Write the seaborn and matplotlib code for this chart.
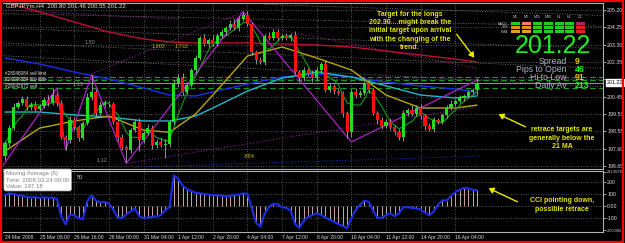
import numpy as np
import pandas as pd
import matplotlib
matplotlib.use("Agg")
import matplotlib.pyplot as plt
import seaborn as sns
from matplotlib.patches import Rectangle, FancyArrowPatch

sns.set_style("dark")
plt.rcParams['font.family'] = ['Liberation Sans', 'DejaVu Sans']

# ---------------- data ----------------
first_open = 197.20
closes = [197.90, 198.73, 199.90, 200.10, 200.30, 199.90, 200.00, 199.80, 199.95, 200.27,
          200.10, 200.55, 200.10, 198.24, 198.08, 199.17, 198.80, 198.19, 199.00, 200.43,
          200.70, 199.56, 199.99, 200.10, 200.05, 199.06, 198.24, 197.69, 197.53, 198.62,
          199.06, 198.08, 198.46, 198.73, 197.80, 197.97, 197.80, 197.85, 199.06, 201.20,
          201.47, 200.70, 201.09, 201.91, 202.57, 203.67, 203.34, 203.56, 203.34, 203.78,
          204.00, 204.21, 204.43, 204.21, 204.70, 204.93, 204.43, 202.90, 202.46, 202.35,
          203.78, 203.67, 204.00, 203.67, 203.78, 203.67, 203.84, 201.80, 201.47, 201.91,
          201.69, 201.47, 201.91, 202.24, 200.82, 201.04, 200.76, 200.65, 199.56, 198.51,
          200.70, 200.55, 200.65, 201.20, 200.82, 199.56, 199.17, 198.84, 199.06, 198.79,
          198.51, 198.24, 199.56, 199.72, 199.50, 199.83, 199.39, 198.84, 198.68, 199.17,
          199.06, 199.45, 199.83, 200.05, 200.21, 200.38, 200.49, 200.70, 200.80, 201.22]
upper_wick = [0.10, 0.15, 0.20, 0.12, 0.18, 0.20, 0.15, 0.22, 0.10, 0.18,
              0.25, 0.38, 0.12, 0.15, 0.10, 0.20, 0.15, 0.10, 0.12, 0.20,
              0.94, 0.15, 0.22, 0.15, 0.12, 0.10, 0.12, 0.15, 0.10, 0.10,
              0.15, 0.20, 0.12, 0.20, 0.15, 0.18, 0.22, 0.30, 0.12, 0.15,
              0.20, 0.30, 0.15, 0.12, 0.15, 0.10, 0.20, 0.12, 0.25, 0.15,
              0.18, 0.12, 0.20, 0.25, 0.15, 0.17, 0.20, 0.10, 0.12, 0.15,
              0.12, 0.20, 0.15, 0.18, 0.12, 0.15, 0.10, 0.20, 0.10, 0.15,
              0.12, 0.20, 0.15, 0.12, 0.20, 0.18, 0.12, 0.15, 0.10, 0.12,
              0.15, 0.22, 0.18, 0.12, 0.15, 0.10, 0.12, 0.18, 0.15, 0.20,
              0.12, 0.15, 0.18, 0.12, 0.25, 0.15, 0.20, 0.12, 0.18, 0.15,
              0.12, 0.10, 0.15, 0.20, 0.12, 0.15, 0.10, 0.12, 0.10, 0.24]
lower_wick = [0.20, 0.15, 0.10, 0.15, 0.12, 0.18, 0.20, 0.12, 0.15, 0.10,
              0.18, 0.12, 0.15, 0.12, 0.55, 0.15, 0.20, 0.15, 0.12, 0.10,
              0.15, 0.20, 0.12, 0.10, 0.15, 0.12, 0.20, 0.15, 0.66, 0.15,
              0.12, 0.60, 0.15, 0.12, 0.20, 0.15, 0.12, 0.70, 0.15, 0.12,
              0.20, 0.15, 0.12, 0.10, 0.15, 0.12, 0.10, 0.15, 0.12, 0.10,
              0.12, 0.15, 0.10, 0.12, 0.15, 0.10, 0.12, 0.15, 0.20, 0.12,
              0.15, 0.10, 0.12, 0.15, 0.10, 0.12, 0.15, 0.12, 0.22, 0.15,
              0.12, 0.20, 0.12, 0.15, 0.12, 0.10, 0.15, 0.12, 0.20, 0.30,
              0.25, 0.15, 0.12, 0.10, 0.15, 0.12, 0.20, 0.15, 0.12, 0.18,
              0.15, 0.16, 0.20, 0.15, 0.12, 0.10, 0.15, 0.20, 0.12, 0.15,
              0.12, 0.10, 0.15, 0.12, 0.10, 0.12, 0.15, 0.10, 0.12, 0.25]

cci = [90, 105, 100, 90, 85, 75, 70, 75, 68, 72,
       70, 68, 60, -85, -150, -70, -75, -100, -110, 40,
       90, 45, 30, 35, 20, -30, -95, -100, -70, -45,
       -20, -85, -100, -95, -90, -85, -75, -35, -10, 255,
       225, 170, 140, 125, 110, 105, 100, 95, 90, 90,
       85, 80, 85, 90, 95, 105, 100, -20, -140, -170,
       -60, -5, 20, 15, -10, -15, -40, -150, -180, -120,
       -90, -75, -60, -75, -95, -115, -130, -150, -165, -185,
       -100, -30, 10, 45, 35, -40, -95, -100, -75, -60,
       -85, -60, -10, -10, -15, -20, -30, -55, -78, -45,
       10, 48, 45, 85, 115, 135, 150, 145, 135, 132]

ma_bars = [0, 8, 16, 24, 32, 38, 44, 48, 56, 64, 72, 80, 88, 96, 104, 109]
ma21 = [197.47, 198.73, 199.12, 199.39, 198.62, 198.50, 199.50, 200.54, 202.68, 203.17,
        202.57, 201.91, 200.54, 199.83, 199.83, 199.99]
ma_cyan = [199.61, 199.61, 199.45, 199.34, 199.12, 199.12, 199.39, 199.83, 200.76, 201.47,
           201.80, 201.53, 201.04, 200.54, 200.38, 200.49]
ma_blue = [202.57, 202.24, 201.80, 201.42, 200.93, 200.54, 200.49, 200.71, 201.14, 201.53,
           201.69, 201.53, 201.25, 201.04, 200.87, 200.70]
ma_red = [205.64, 205.09, 204.54, 203.99, 203.61, 203.45, 203.39, 203.39, 203.39, 203.34,
          203.28, 203.17, 202.95, 202.73, 202.51, 202.35]

zz_bars = [-1, 12, 14, 20, 28, 55, 80, 109]
zz_price = [196.50, 200.93, 197.53, 201.64, 196.80, 205.10, 197.97, 201.36]

date_labels = ["24 Mar 2008", "25 Mar 08:00", "26 Mar 16:00", "28 Mar 00:00", "31 Mar 04:00",
               "1 Apr 12:00", "2 Apr 20:00", "4 Apr 04:00", "7 Apr 12:00", "8 Apr 20:00",
               "10 Apr 04:00", "11 Apr 12:00", "14 Apr 20:00", "16 Apr 04:00"]
price_ticks = [205.20, 204.25, 203.30, 202.35, 201.40, 200.45, 199.50, 198.55, 197.60, 196.65]
cci_ticks = [281.8578, 200, 100, 0, -100, -200.093]
cci_tick_labels = ["281.8578", "200", "100", "0.00", "-100", "-200.093"]

order_levels = [201.53, 201.34, 200.90]
order_names = ["#28048084 sell limit", "#28048084 buy limit", "#28042972 sell"]

# ---------------- derived ----------------
n = len(closes)
idx = np.arange(n)
opens = [first_open] + closes[:-1]
df = pd.DataFrame({"bar": idx, "open": opens, "close": closes,
                   "uw": upper_wick, "lw": lower_wick, "cci": cci})
df["high"] = df[["open", "close"]].max(axis=1) + df["uw"]
df["low"] = df[["open", "close"]].min(axis=1) - df["lw"]
df["ma5"] = df["close"].rolling(5, min_periods=1).mean()
ma_df = pd.DataFrame({"bar": ma_bars, "ma21": ma21, "cyan": ma_cyan, "blue": ma_blue, "red": ma_red})

W, H = 625, 243
fig = plt.figure(figsize=(W / 100, H / 100), dpi=100)
fig.patch.set_facecolor("black")

def fx(px):
    return px / W

def fy(py):
    return 1 - py / H

YLO, YHI = 196.49, 205.58
ax = fig.add_axes([fx(3), fy(169), fx(600), 166 / H])
ax2 = fig.add_axes([fx(3), fy(232), fx(600), 61 / H])
xlim = (-0.46, 138.1)
for a in (ax, ax2):
    a.set_facecolor("black")
    a.set_xlim(*xlim)
    for s in a.spines.values():
        s.set_color("#b0b0b0")
        s.set_linewidth(0.8)
    a.spines["left"].set_visible(False)
    a.grid(False)

ax.set_ylim(YLO, YHI)
ax2.set_ylim(-215, 290)

tick_bars = list(range(0, 105, 8))
grid_c = "#6e6e6e"
for a in (ax, ax2):
    for tb in tick_bars[1:]:
        a.axvline(tb, color=grid_c, ls=(0, (1, 2)), lw=0.6, zorder=0)
for p in price_ticks:
    ax.axhline(p, color=grid_c, ls=(0, (1, 2)), lw=0.6, zorder=0)
for c in [200, 100, 0, -100]:
    ax2.axhline(c, color=grid_c, ls=(0, (1, 2)), lw=0.6, zorder=0)

# fib fan / trend lines (chart objects)
fan_lines = [((-1, 205.0), (138, 204.3)), ((-1, 204.2), (138, 203.1)), ((-1, 203.4), (138, 202.0)),
             ((-1, 202.7), (138, 201.0)), ((60, 205.5), (138, 204.9))]
for (b0, p0), (b1, p1) in fan_lines:
    ax.plot([b0, b1], [p0, p1], color="#8a8a8a", ls=(0, (1, 2)), lw=0.6, zorder=1)
purple_dots = [((20, 201.7), (55, 205.1)), ((28, 196.8), (109, 199.9)), ((55, 204.5), (109, 202.0)),
               ((0, 205.2), (40, 204.7))]
for (b0, p0), (b1, p1) in purple_dots:
    ax.plot([b0, b1], [p0, p1], color="#a020b0", ls=(0, (1, 2)), lw=0.7, zorder=1)
ax.plot([30, 110], [196.6, 197.2], color="#2030c0", ls=(0, (1, 2)), lw=0.7, zorder=1)

# order lines
for lv in order_levels:
    ax.axhline(lv, color="#1a9a1a", ls=(0, (5, 3)), lw=0.8, zorder=1)
ax.axhline(closes[-1], color="#909090", lw=0.8, zorder=1)

# moving averages
sns.lineplot(data=ma_df, x="bar", y="red", ax=ax, color="#c01030", lw=1.0, zorder=2)
sns.lineplot(data=ma_df, x="bar", y="blue", ax=ax, color="#1a30e8", lw=1.0, zorder=2)
sns.lineplot(data=ma_df, x="bar", y="cyan", ax=ax, color="#20b8c8", lw=1.0, zorder=2)
sns.lineplot(data=ma_df, x="bar", y="ma21", ax=ax, color="#b8a800", lw=1.0, zorder=2)
sns.lineplot(data=df, x="bar", y="ma5", ax=ax, color="#10a010", lw=0.8, zorder=2)
ax.plot(zz_bars, zz_price, color="#b020c8", lw=0.9, zorder=2)

# candles
up = df["close"] >= df["open"]
ax.vlines(df["bar"], df["low"], df["high"], color="#a8a8a8", lw=0.6, zorder=3)
body_bottom = df[["open", "close"]].min(axis=1)
body_h = (df["close"] - df["open"]).abs().clip(lower=0.03)
ax.bar(df["bar"], body_h, bottom=body_bottom, width=0.72,
       color=np.where(up, "#22dd22", "#ff1010"), zorder=4, linewidth=0)

# CCI
ax2.vlines(df["bar"], 0, df["cci"], color="#c8a8a0", lw=0.7, zorder=2)
sns.lineplot(data=df, x="bar", y="cci", ax=ax2, color="#1a2ee8", lw=1.5, zorder=3)

# axes ticks (201.40 label is hidden behind the current-price box in the reference)
ax.yaxis.tick_right()
ax.set_yticks(price_ticks)
ax.set_yticklabels(["" if abs(p - 201.40) < 1e-6 else f"{p:.2f}" for p in price_ticks])
ax2.yaxis.tick_right()
ax2.set_yticks(cci_ticks)
ax2.set_yticklabels(cci_tick_labels)
for a in (ax, ax2):
    a.tick_params(axis="y", colors="#e0e0e0", labelsize=3.8, length=2, pad=1, width=0.5)
    a.set_xlabel("")
    a.set_ylabel("")
for lbl in ax2.get_yticklabels():
    if lbl.get_text() in ("281.8578", "-200.093"):
        lbl.set_fontsize(2.7)
ax.set_xticks([])
ax2.set_xticks(tick_bars)
ax2.set_xticklabels(date_labels, ha="left")
ax2.tick_params(axis="x", colors="#e0e0e0", labelsize=3.6, length=0, pad=2.5)

# current price box
ax.text(1.006, (closes[-1] - YLO) / (YHI - YLO), f"{closes[-1]:.2f}", transform=ax.transAxes,
        fontsize=3.8, color="black", va="center", ha="left",
        bbox=dict(boxstyle="square,pad=0.2", fc="white", ec="white"))

# order labels
for py_, nm in zip([73.5, 79.0, 86.5], order_names):
    fig.text(fx(5), fy(py_), nm, fontsize=3.3, color="#e0e0e0", va="center", ha="left")

# title
fig.text(fx(6), fy(6), "GBPJPYm,H4  200.80 201.46 200.55 201.22", fontsize=4.3, color="#e8e8e8",
         va="center", ha="left")

# fib labels
for (px_, py_, t, c) in [(152, 47, "1.902", "#c8b400"), (175, 46, "1.732", "#c8b400"),
                         (85, 43, "1.50", "#909090"), (73, 84, "1.13", "#909090"),
                         (97, 160, "1.12", "#909090"), (243, 157, ".884", "#c8b400")]:
    fig.text(fx(px_), fy(py_), t, fontsize=4.0, color=c, va="center", ha="left")

# info panel
cols = ["M1", "M5", "M15", "M30", "H1", "H4", "D1"]
rows = ["MACD", "STR", "EMA"]
cell_colors = [["#22cc22", "#ff8070", "#22cc22", "#22cc22", "#22cc22", "#22cc22", "#b02060"],
               ["#e09020", "#e09020", "#22cc22", "#22cc22", "#22cc22", "#22cc22", "#e02020"],
               ["#e0a020", "#e0a020", "#22cc22", "#22cc22", "#22cc22", "#22cc22", "#e02020"]]
col_x = [515, 526, 537, 548, 559, 569, 580]
row_y = [23.5, 27.5, 32]
for j, cname in enumerate(cols):
    fig.text(fx(col_x[j]), fy(17), cname, fontsize=2.6, color="#c0c0c0", ha="center", va="center")
for i, rname in enumerate(rows):
    fig.text(fx(508), fy(row_y[i]), rname, fontsize=2.4, color="#c0c0c0", ha="right", va="center")
    for j in range(len(cols)):
        fig.add_artist(Rectangle((fx(col_x[j] - 4.5), fy(row_y[i] + 1.5)), fx(9), 3 / H,
                                 transform=fig.transFigure, color=cell_colors[i][j], lw=0))

fig.text(fx(553), fy(46), "201.22", fontsize=18, color="#22ee22", ha="center", va="center")
info_labels = ["Spread", "Pips to Open", "Hi to Low", "Daily Av"]
info_values = ["9", "46", "91", "213"]
info_colors = ["#e0c800", "#22ee22", "#e0c800", "#22ee22"]
for k, (lab, val, col) in enumerate(zip(info_labels, info_values, info_colors)):
    yy = 61.5 + k * 8.0
    fig.text(fx(567), fy(yy), lab, fontsize=6.3, color="#a8b0c8", ha="right", va="center")
    fig.text(fx(575), fy(yy), val, fontsize=6.3, color=col, ha="left", va="center", weight="bold")

# annotations
yel = "#e8e800"
fig.text(fx(410), fy(31), "Target for the longs\n202.30....might break the\ninitial target upon arrival\nwith the changing of the\ntrend.",
         fontsize=5.0, color=yel, ha="center", va="center", weight="bold", linespacing=1.25)
fig.text(fx(562), fy(138), "retrace targets are\ngenerally below the\n21 MA",
         fontsize=5.0, color=yel, ha="center", va="center", weight="bold", linespacing=1.25)
fig.text(fx(562), fy(205), "CCI pointing down,\npossible retrace",
         fontsize=5.0, color=yel, ha="center", va="center", weight="bold", linespacing=1.25)
for (x0, y0, x1, y1) in [(455, 32, 476, 60), (528, 128, 496, 113), (520, 203, 486, 187)]:
    fig.add_artist(FancyArrowPatch((fx(x0), fy(y0)), (fx(x1), fy(y1)),
                   transform=fig.transFigure, arrowstyle="-|>,head_length=3,head_width=1.8",
                   color=yel, lw=1.0, mutation_scale=1))

# tooltip
fig.text(fx(6), fy(180), "Moving Average (5)\nTime: 2008.03.24 00:00\nValue: 197.18",
         fontsize=4.3, color="#808080", ha="left", va="center", linespacing=1.35,
         bbox=dict(boxstyle="round,pad=0.35", fc="white", ec="#a0a0a0", lw=0.5))
fig.text(fx(77), fy(177), "50", fontsize=4.0, color="#d0d0d0", ha="left", va="center")

# red border
fig.add_artist(Rectangle((0.002, 0.004), 0.995, 0.992, transform=fig.transFigure,
                         fill=False, ec="#ff0000", lw=1.6))

fig.savefig("out.png", dpi=100, facecolor="black")
